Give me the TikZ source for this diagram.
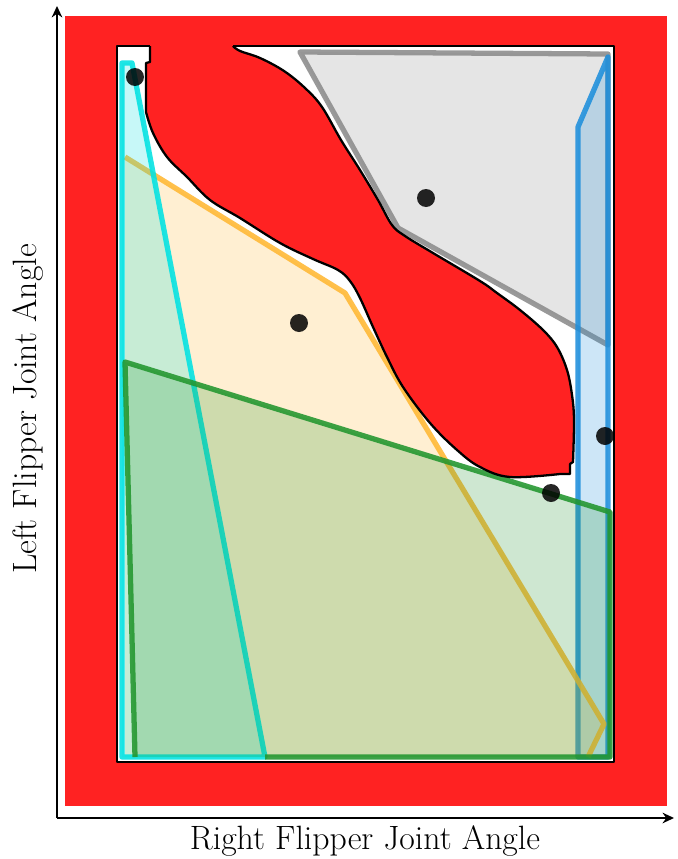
\documentclass[tikz,border=0pt]{standalone}
\usepackage{tikz}
\usetikzlibrary{arrows.meta}
\definecolor{obstred}{RGB}{255,34,34}
\definecolor{cyanreg}{RGB}{0,226,226}
\definecolor{orangereg}{RGB}{255,184,51}
\definecolor{grayreg}{RGB}{140,140,140}
\definecolor{bluereg}{RGB}{30,143,220}
\definecolor{greenreg}{RGB}{34,150,46}
\begin{document}
\begin{tikzpicture}
[x=0.02cm, y=-0.02cm, font=\fontsize{19.2}{23}\selectfont, >={Stealth[length=6.5pt, width=6pt]}]
\tikzstyle{regfill}=[fill opacity=0.22]
\tikzstyle{regline}=[line width=3pt, line join=round, draw opacity=0.88]
\tikzstyle{sample}=[circle, fill=black, fill opacity=0.85, inner sep=0mm, minimum size=0.36cm]
\tikzstyle{axis}=[line width=1.3pt, ->]
\tikzstyle{border}=[draw=black, line width=1.3pt, line join=round]

\useasboundingbox (0,0) rectangle (678,859);

% obstacle space and free space
\fill[obstred] (65,16) rectangle (667,806);
\fill[white] (117,46) rectangle (614,762);

% regions
\filldraw[regfill, regline, fill=grayreg, draw=grayreg] (300,52) -- (608,54) -- (608,345) -- (398,228) -- cycle;
\filldraw[regfill, regline, fill=bluereg, draw=bluereg] (578,127) -- (608,57) -- (608,757) -- (578,757) -- cycle;
\fill[regfill, fill=orangereg] (125,157) -- (345,293) -- (604,724) -- (588,757) -- (125,757) -- cycle;
\draw[regline, draw=orangereg] (125,157) -- (345,293) -- (604,724) -- (588,757);
\filldraw[regfill, regline, fill=cyanreg, draw=cyanreg] (122,63) -- (132,63) -- (265,757) -- (122,757) -- cycle;
\fill[regfill, fill=greenreg] (125,362) -- (610,512) -- (610,757) -- (135,757) -- cycle;
\draw[regline, draw=greenreg] (265,757) -- (610,757) -- (610,512) -- (125,362) -- (135,757);

% obstacle blob
\draw[border] (150,46) -- (117,46) -- (117,762) -- (614,762) -- (614,46) -- (233,46);
\filldraw[border, fill=obstred] (150,46) -- (150,62) -- (146,63)
  -- plot[smooth, tension=0.6] coordinates {(146,112) (153,133) (167,157) (187,177) (210,200) (240,218) (280,243) (313,259) (338,270) (350,281) (360,298) (373,327) (387,357) (403,387) (430,423) (457,450) (480,467) (510,477) (560,474)}
  -- (570,474) -- (570,464) -- (573,462)
  -- plot[smooth, tension=0.6] coordinates {(573,462) (574,420) (572,395) (567,370) (557,347) (543,330) (520,310) (497,293) (480,281) (433,253) (405,236) (392,225) (378,200) (360,170) (341,140) (322,107) (305,88) (284,71) (260,58) (240,51) (233,46)};

% samples
\node[sample] (s1) at (135,77) {};
\node[sample] (s2) at (426,198) {};
\node[sample] (s3) at (299,323) {};
\node[sample] (s4) at (605,436) {};
\node[sample] (s5) at (551,493) {};

% axes
\coordinate (O) at (57,818);
\coordinate (ytip) at (57,6);
\coordinate (xtip) at (674,818);
\draw[axis] (O) -- (ytip);
\draw[axis] (O) -- (xtip);
\node (xlabel) at (365,841) {Right Flipper Joint Angle};
\node[rotate=90] (ylabel) at (28,409) {Left Flipper Joint Angle};

\end{tikzpicture}
\end{document}
